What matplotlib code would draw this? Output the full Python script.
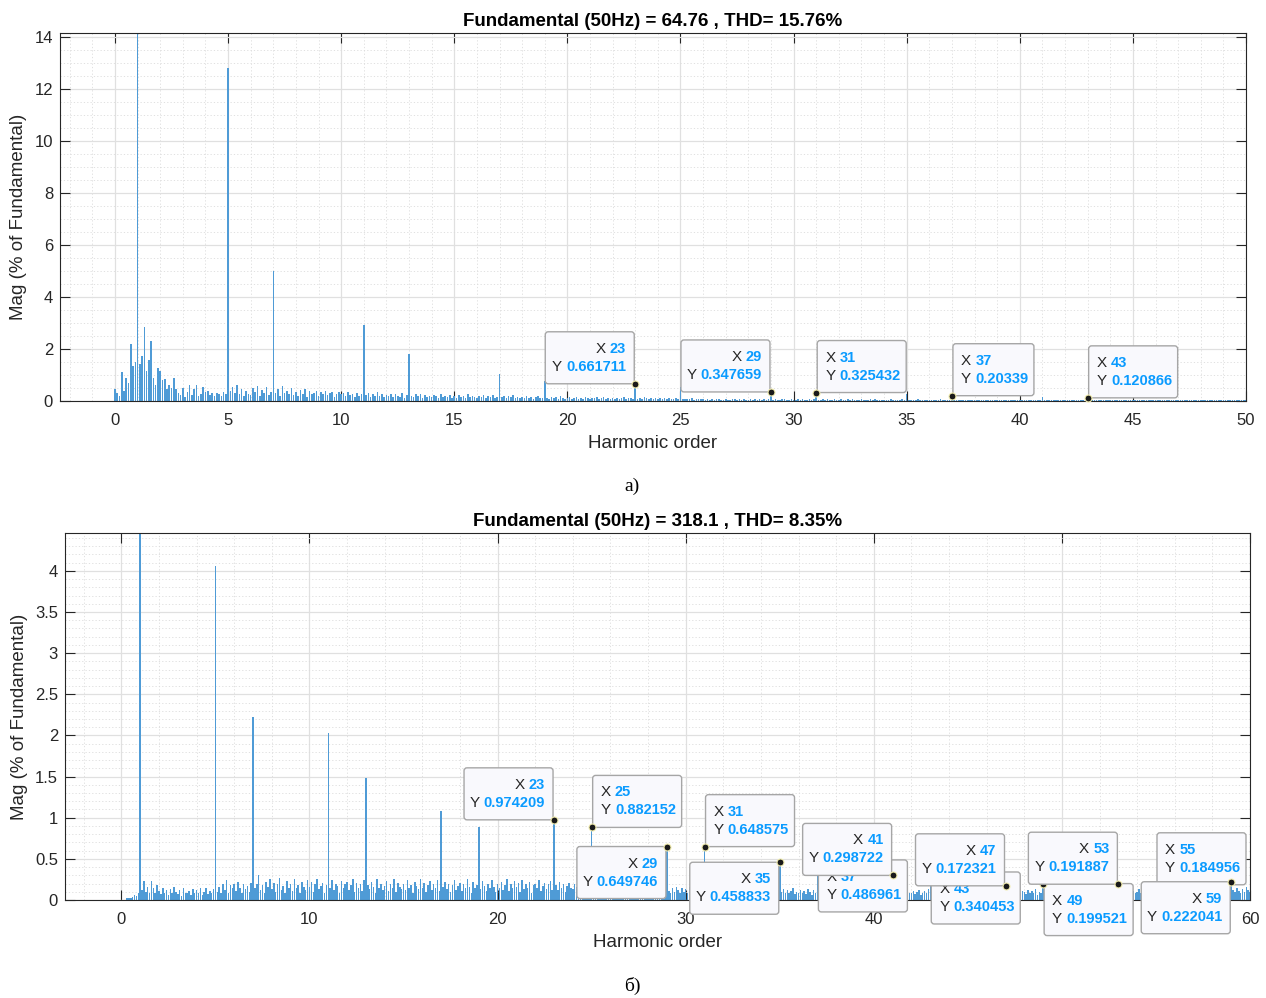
import matplotlib
matplotlib.use("Agg")
import matplotlib.pyplot as plt
import matplotlib.transforms as mtransforms
from matplotlib.patches import FancyBboxPatch
from matplotlib.ticker import MultipleLocator, FormatStrFormatter
import numpy as np

plt.rcParams["font.family"] = ["Liberation Sans", "DejaVu Sans"]

STEP = 0.1  # spectrum resolution, harmonic orders

# ---- panel a) ----
top_title = "Fundamental (50Hz) = 64.76 , THD= 15.76%"
top_orders = [1, 5, 7, 11, 13, 17, 19, 23, 25, 29, 31, 35, 37, 41, 43]
top_mags = [100, 12.82, 5.01, 2.91, 1.82, 1.03, 0.77, 0.661711, 0.54,
            0.347659, 0.325432, 0.25, 0.20339, 0.15, 0.120866]
# interharmonic noise, hundredths of %, one row per harmonic order (x.0 .. x.9)
top_noise = [
    [45, 30, 20, 110, 38, 90, 70, 218, 135, 150],
    [0, 141, 174, 283, 115, 158, 230, 87, 60, 127],
    [117, 80, 83, 45, 60, 50, 87, 48, 30, 23],
    [50, 17, 34, 60, 23, 47, 60, 19, 28, 55],
    [36, 38, 22, 30, 18, 32, 28, 20, 35, 25],
    [0, 40, 55, 30, 62, 25, 45, 20, 38, 28],
    [22, 50, 35, 58, 18, 42, 30, 55, 24, 36],
    [0, 32, 48, 20, 56, 30, 40, 26, 50, 22],
    [34, 20, 42, 28, 45, 16, 38, 25, 30, 40],
    [18, 35, 26, 40, 22, 30, 36, 15, 28, 33],
    [25, 30, 18, 34, 22, 28, 15, 32, 20, 26],
    [0, 24, 30, 16, 28, 20, 33, 18, 25, 14],
    [22, 18, 28, 14, 26, 20, 16, 30, 12, 24],
    [0, 20, 14, 25, 18, 28, 12, 22, 16, 20],
    [15, 24, 18, 12, 26, 14, 20, 17, 22, 10],
    [18, 12, 22, 15, 20, 10, 25, 14, 18, 16],
    [12, 20, 15, 22, 10, 18, 14, 24, 12, 16],
    [0, 15, 20, 10, 18, 14, 22, 12, 16, 10],
    [14, 10, 18, 12, 16, 8, 15, 20, 10, 13],
    [0, 12, 8, 16, 10, 14, 9, 18, 11, 8],
    [10, 14, 8, 12, 16, 9, 13, 7, 15, 10],
    [8, 12, 10, 15, 7, 11, 14, 9, 12, 8],
    [10, 7, 13, 9, 11, 15, 8, 12, 10, 6],
    [0, 9, 12, 7, 14, 10, 8, 13, 9, 11],
    [7, 10, 8, 12, 6, 11, 9, 7, 10, 8],
    [0, 8, 6, 9, 7, 10, 5, 8, 6, 9],
    [6, 4, 8, 5, 7, 3, 6, 9, 4, 5],
    [7, 5, 3, 8, 6, 4, 7, 5, 9, 3],
    [5, 8, 4, 6, 3, 7, 5, 8, 4, 6],
    [0, 4, 7, 5, 3, 6, 8, 4, 5, 7],
    [5, 3, 6, 4, 8, 5, 3, 7, 4, 6],
    [0, 5, 4, 7, 3, 6, 5, 4, 8, 3],
    [4, 6, 3, 5, 7, 4, 6, 3, 5, 4],
    [6, 3, 5, 4, 6, 3, 7, 4, 3, 5],
    [3, 5, 4, 6, 3, 5, 4, 3, 6, 4],
    [0, 4, 3, 5, 4, 6, 3, 4, 5, 3],
    [4, 3, 5, 3, 4, 6, 3, 5, 4, 3],
    [0, 4, 3, 5, 3, 4, 3, 5, 3, 4],
    [3, 5, 4, 3, 4, 3, 5, 3, 4, 3],
    [4, 3, 3, 5, 3, 4, 3, 4, 5, 3],
    [3, 4, 3, 3, 5, 3, 4, 3, 3, 4],
    [0, 3, 4, 3, 3, 4, 3, 5, 3, 3],
    [3, 3, 4, 3, 4, 3, 3, 4, 3, 3],
    [0, 3, 3, 4, 3, 3, 4, 3, 3, 4],
    [3, 2, 3, 3, 4, 2, 3, 3, 2, 3],
    [2, 3, 3, 2, 3, 4, 2, 3, 3, 2],
    [3, 2, 4, 3, 2, 3, 3, 2, 4, 3],
    [2, 3, 2, 3, 3, 2, 4, 3, 2, 3],
    [3, 2, 3, 2, 3, 3, 2, 3, 3, 2],
    [2, 3, 3, 2, 2, 3, 3, 2, 3, 2],
    [2],
]
top_tips = [23, 29, 31, 37, 43]
top_tip_side = ["ul", "ul", "ur", "ur", "ur"]

# ---- panel б) ----
bot_title = "Fundamental (50Hz) = 318.1 , THD= 8.35%"
bot_orders = [1, 5, 7, 11, 13, 17, 19, 23, 25, 29, 31, 35, 37, 41, 43,
              47, 49, 53, 55, 59]
bot_mags = [100, 4.06, 2.23, 2.03, 1.48, 1.08, 0.89, 0.974209, 0.882152,
            0.649746, 0.648575, 0.458833, 0.486961, 0.298722, 0.340453,
            0.172321, 0.199521, 0.191887, 0.184956, 0.222041]
bot_noise = [
    [0, 0, 0, 2, 3, 2, 4, 6, 5, 9],
    [0, 12, 23, 10, 16, 8, 23, 14, 9, 18],
    [11, 7, 15, 9, 12, 6, 13, 8, 16, 10],
    [7, 12, 5, 14, 9, 8, 11, 6, 13, 9],
    [12, 8, 15, 6, 10, 14, 7, 11, 9, 13],
    [0, 10, 16, 8, 20, 12, 24, 9, 18, 14],
    [19, 11, 22, 15, 8, 20, 13, 17, 10, 21],
    [0, 14, 20, 30, 12, 18, 9, 22, 16, 25],
    [13, 21, 10, 19, 27, 12, 17, 8, 23, 15],
    [20, 11, 26, 14, 18, 9, 22, 16, 12, 24],
    [16, 22, 10, 19, 25, 13, 17, 21, 9, 18],
    [0, 15, 24, 12, 20, 17, 9, 23, 14, 19],
    [22, 12, 18, 26, 10, 21, 15, 19, 11, 24],
    [0, 18, 13, 22, 16, 9, 25, 14, 20, 12],
    [17, 23, 11, 19, 14, 26, 10, 21, 16, 13],
    [20, 12, 24, 15, 18, 9, 22, 17, 13, 25],
    [14, 21, 10, 18, 23, 12, 19, 15, 24, 11],
    [0, 16, 22, 13, 20, 10, 18, 24, 12, 17],
    [21, 11, 19, 14, 25, 16, 9, 22, 15, 18],
    [0, 13, 23, 17, 11, 20, 14, 24, 16, 10],
    [19, 15, 22, 12, 18, 25, 11, 20, 14, 23],
    [16, 21, 10, 24, 13, 19, 15, 22, 9, 18],
    [20, 14, 24, 11, 17, 21, 13, 19, 23, 12],
    [0, 18, 12, 22, 15, 20, 10, 17, 21, 14],
    [13, 19, 16, 11, 22, 14, 18, 10, 20, 15],
    [0, 12, 17, 14, 20, 9, 16, 13, 18, 11],
    [15, 10, 18, 13, 16, 8, 14, 19, 11, 12],
    [9, 14, 11, 17, 10, 13, 8, 15, 12, 16],
    [12, 8, 15, 10, 14, 9, 13, 11, 16, 7],
    [0, 11, 8, 14, 10, 16, 12, 9, 15, 10],
    [13, 9, 16, 11, 14, 8, 18, 12, 10, 15],
    [0, 12, 17, 10, 14, 19, 11, 15, 9, 13],
    [16, 10, 14, 18, 12, 9, 15, 11, 17, 13],
    [11, 15, 9, 13, 17, 10, 14, 12, 8, 16],
    [12, 9, 14, 11, 16, 13, 8, 15, 10, 12],
    [0, 10, 13, 8, 12, 9, 11, 14, 7, 10],
    [9, 12, 8, 11, 7, 13, 10, 6, 12, 9],
    [0, 8, 11, 14, 9, 16, 12, 18, 10, 20],
    [13, 17, 9, 15, 11, 19, 8, 14, 12, 16],
    [10, 14, 18, 12, 16, 9, 13, 20, 11, 15],
    [12, 16, 10, 14, 9, 13, 17, 11, 15, 8],
    [0, 9, 12, 8, 11, 7, 10, 13, 6, 9],
    [8, 11, 7, 10, 12, 6, 9, 11, 8, 13],
    [0, 10, 14, 9, 12, 16, 8, 11, 13, 10],
    [12, 9, 15, 11, 8, 13, 10, 14, 9, 12],
    [10, 13, 8, 12, 15, 9, 11, 14, 7, 10],
    [9, 12, 10, 14, 8, 11, 13, 9, 12, 7],
    [0, 8, 11, 9, 13, 10, 7, 12, 9, 11],
    [10, 7, 12, 8, 11, 9, 13, 6, 10, 8],
    [0, 9, 12, 10, 14, 8, 11, 13, 9, 12],
    [11, 14, 9, 12, 16, 10, 13, 8, 15, 11],
    [13, 10, 15, 12, 9, 14, 11, 17, 10, 12],
    [9, 12, 14, 10, 13, 8, 11, 15, 12, 9],
    [0, 11, 8, 13, 10, 12, 9, 14, 11, 8],
    [10, 13, 9, 12, 8, 11, 14, 10, 12, 9],
    [0, 9, 12, 10, 13, 8, 11, 9, 12, 10],
    [11, 8, 13, 10, 12, 9, 14, 11, 8, 12],
    [10, 13, 9, 11, 14, 10, 12, 8, 13, 11],
    [12, 9, 11, 14, 10, 13, 8, 12, 10, 15],
    [0, 12, 10, 14, 11, 9, 13, 10, 16, 12],
    [10],
]
bot_tips = [23, 25, 29, 31, 35, 37, 41, 43, 47, 49, 53, 55, 59]
bot_tip_side = ["ul", "ur", "ll", "ur", "ll", "lr", "ul", "lr", "ul", "lr",
                "ul", "ur", "ll"]

BAR_COLOR = "#4f9bd6"
TXT = "#262626"
TIP_BLUE = "#0a9bff"
TIP_FS = 10.5


def spectrum(noise_rows, orders, mags):
    vals = np.array([v for row in noise_rows for v in row], dtype=float) / 100
    x = np.arange(len(vals)) * STEP
    for h, m in zip(orders, mags):
        vals[int(round(h / STEP))] = m
    return x, vals


def datatip(ax, x, y, side, z):
    fig = ax.figure
    px = 1 / fig.dpi
    trans = fig.dpi_scale_trans + mtransforms.ScaledTranslation(x, y, ax.transData)
    ystr = f"{y:.6g}"
    w = (25 + 8 * len(ystr)) * px
    h = 52 * px
    gap = 1 * px
    left = side[1] == "l"
    bx = -w - gap if left else gap
    by = 0 if side[0] == "u" else -h
    box = FancyBboxPatch((bx, by), w, h, boxstyle=f"round,pad=0,rounding_size={3 * px}",
                         transform=trans, facecolor="#f9f9fd", edgecolor="#a6a6a6",
                         linewidth=1.0, clip_on=False, zorder=z)
    ax.add_patch(box)
    rows = [("X", f"{x:g}", by + h - 17 * px), ("Y", ystr, by + h - 35 * px)]
    for lab, num, ty in rows:
        if left:
            t = ax.text(bx + w - 8 * px, ty, num, transform=trans, ha="right", va="center",
                        fontsize=TIP_FS, fontweight="bold", color=TIP_BLUE, clip_on=False,
                        zorder=z + 0.01)
            ax.annotate(lab, xy=(0, 0.5), xycoords=t, xytext=(-3, 0),
                        textcoords="offset points", ha="right", va="center",
                        fontsize=TIP_FS + 0.5, color=TXT, annotation_clip=False,
                        zorder=z + 0.01)
        else:
            t = ax.text(bx + 8 * px, ty, lab, transform=trans, ha="left", va="center",
                        fontsize=TIP_FS + 0.5, color=TXT, clip_on=False, zorder=z + 0.01)
            ax.annotate(num, xy=(1, 0.5), xycoords=t, xytext=(3, 0),
                        textcoords="offset points", ha="left", va="center",
                        fontsize=TIP_FS, fontweight="bold", color=TIP_BLUE,
                        annotation_clip=False, zorder=z + 0.01)
    ax.plot([x], [y], "o", ms=5, mfc="#1a1a1a", mec="#f3eeb0", mew=0.8,
            clip_on=False, zorder=z + 0.02)


def style_axes(ax, xlim, ylim, xmaj, xmin, ymaj, ymin):
    ax.set_xlim(*xlim)
    ax.set_ylim(*ylim)
    ax.xaxis.set_major_locator(MultipleLocator(xmaj))
    ax.xaxis.set_minor_locator(MultipleLocator(xmin))
    ax.yaxis.set_major_locator(MultipleLocator(ymaj))
    ax.yaxis.set_minor_locator(MultipleLocator(ymin))
    ax.yaxis.set_major_formatter(FormatStrFormatter("%g"))
    ax.set_axisbelow(True)
    ax.grid(which="major", color="#e0e0e0", linewidth=0.9, linestyle="-")
    ax.grid(which="minor", color="#dcdcdc", linewidth=0.6, linestyle=(0, (1.5, 2.5)))
    ax.tick_params(which="major", direction="in", length=7, width=0.8, color=TXT,
                   labelsize=12, labelcolor=TXT, top=True, right=True)
    ax.tick_params(axis="x", which="major", pad=9)
    ax.tick_params(axis="y", which="major", pad=5)
    ax.tick_params(which="minor", length=0)
    for sp in ax.spines.values():
        sp.set_color(TXT)
        sp.set_linewidth(0.8)
    ax.set_xlabel("Harmonic order", fontsize=13.5, color=TXT, labelpad=5)
    ax.set_ylabel("Mag (% of Fundamental)", fontsize=13.5, color=TXT, labelpad=5)


fig = plt.figure(figsize=(12.66, 9.98), dpi=100)

ax1 = fig.add_axes([0.0474, 0.5982, 0.9368, 0.3688])
x1, y1 = spectrum(top_noise, top_orders, top_mags)
ax1.bar(x1, y1, width=0.07, color=BAR_COLOR, linewidth=0)
style_axes(ax1, (-2.43, 50), (0, 14.15), 5, 1, 2, 0.5)
ax1.set_title(top_title, fontsize=13.5, fontweight="bold", color="black", pad=5)
for i, (h, s) in enumerate(zip(top_tips, top_tip_side)):
    datatip(ax1, h, top_mags[top_orders.index(h)], s, 10 + i * 0.1)

ax2 = fig.add_axes([0.0513, 0.0982, 0.9361, 0.3677])
x2, y2 = spectrum(bot_noise, bot_orders, bot_mags)
ax2.bar(x2, y2, width=0.08, color=BAR_COLOR, linewidth=0)
style_axes(ax2, (-3, 60), (0, 4.46), 10, 2, 0.5, 0.1)
ax2.set_title(bot_title, fontsize=13.5, fontweight="bold", color="black", pad=5)
for i, (h, s) in enumerate(zip(bot_tips, bot_tip_side)):
    datatip(ax2, h, bot_mags[bot_orders.index(h)], s, 10 + i * 0.1)

fig.text(0.4992, 0.513, "а)", ha="center", va="center", fontsize=14,
         family=["Liberation Serif", "DejaVu Serif"])
fig.text(0.4992, 0.012, "б)", ha="center", va="center", fontsize=14,
         family=["Liberation Serif", "DejaVu Serif"])

fig.savefig("out.png", dpi=100)
plt.close(fig)
